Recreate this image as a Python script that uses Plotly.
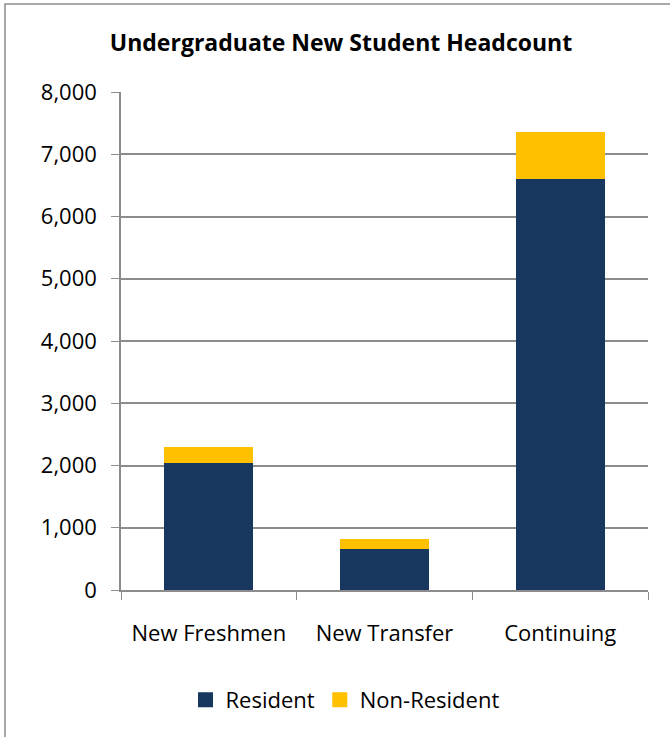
import plotly.graph_objects as go

# Data
categories = ["New Freshmen", "New Transfer", "Continuing"]
resident = [2035, 663, 6602]
non_resident = [257, 150, 755]

NAVY = "#17375E"
GOLD = "#FFC000"
GRID = "#8C8C8C"
FONT = "Open Sans"

fig = go.Figure()
fig.add_trace(go.Bar(x=categories, y=resident, name="Resident", marker_color=NAVY,
                     marker_line_width=0, showlegend=False))
fig.add_trace(go.Bar(x=categories, y=non_resident, name="Non-Resident", marker_color=GOLD,
                     marker_line_width=0, showlegend=False))
# legend-only entries so the swatches can be bigger squares
for name, col in [("Resident", NAVY), ("Non-Resident", GOLD)]:
    fig.add_trace(go.Scatter(x=[categories[0]], y=[None], mode="markers", name=name,
                             marker=dict(symbol="square", size=15, color=col)))

# plot area in pixels: x 121..648, y 92..590
L, R, T, B = 121, 22, 92, 147
W, H = 670, 737
pw, ph = W - L - R, H - T - B

def px_x(p):
    return (p - L) / pw

def px_y(p):
    return (H - B - p) / ph

fig.update_layout(
    width=W, height=H,
    margin=dict(l=L, r=R, t=T, b=B, autoexpand=False),
    paper_bgcolor="white", plot_bgcolor="white",
    barmode="stack", bargap=0.495,
    font=dict(family=FONT, size=22, color="#000000"),
    title=dict(text="<b>Undergraduate New Student Headcount</b>",
               x=341 / W, xanchor="center", y=1 - 43 / H, yanchor="middle",
               font=dict(family=FONT, size=23, color="#000000")),
    xaxis=dict(showline=True, linecolor=GRID, linewidth=1.5,
               ticks="outside", tickson="boundaries", ticklen=8, tickcolor=GRID,
               tickfont=dict(size=22), ticklabelstandoff=23, tickangle=0,
               showgrid=False),
    yaxis=dict(range=[0, 8000], dtick=1000, tickformat=",d",
               showline=True, linecolor=GRID, linewidth=1.5,
               ticks="outside", ticklen=8, tickcolor=GRID, ticklabelstandoff=10,
               showgrid=True, gridcolor=GRID, gridwidth=1.5,
               zeroline=False, tickfont=dict(size=22)),
    legend=dict(orientation="h", x=px_x(345), xanchor="center",
                y=px_y(700), yanchor="middle",
                font=dict(size=22), traceorder="normal"),
    shapes=[dict(type="rect", xref="paper", yref="paper",
                 x0=px_x(5), x1=px_x(690), y0=px_y(760), y1=px_y(4),
                 line=dict(color="#8C8C8C", width=1.5), layer="below")],
)

fig.write_html("out.html", config={"displayModeBar": False},
               post_script="document.body.style.margin='0';")
